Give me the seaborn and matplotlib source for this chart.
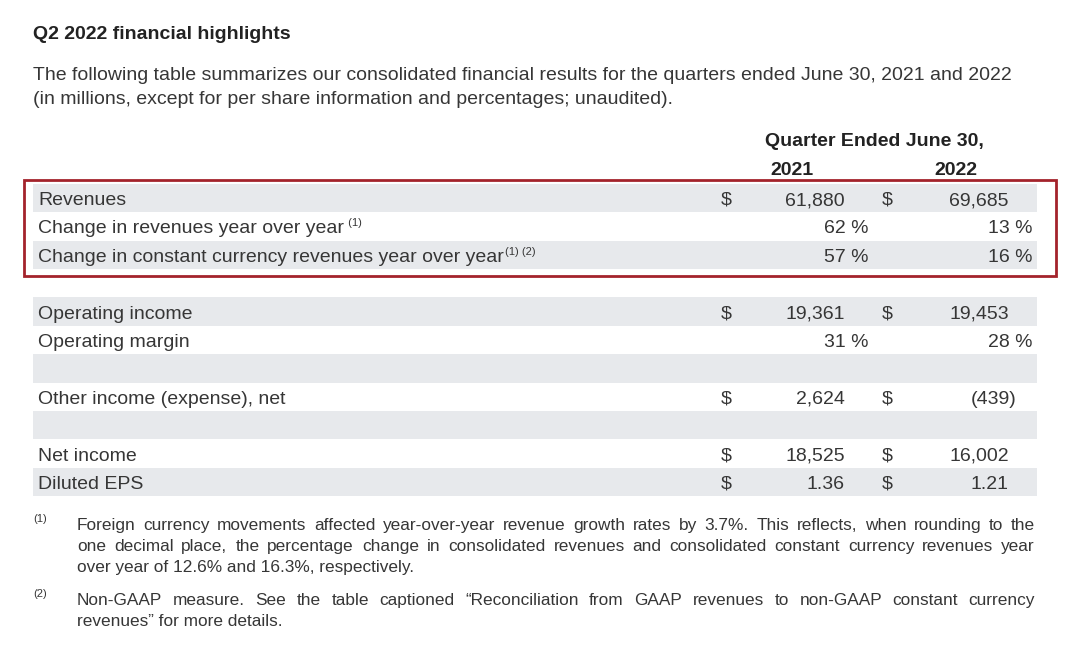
import matplotlib
matplotlib.use("Agg")
import matplotlib.pyplot as plt
from matplotlib.patches import Rectangle
import seaborn as sns

# table content
title = "Q2 2022 financial highlights"
intro = ["The following table summarizes our consolidated financial results for the quarters ended June 30, 2021 and 2022",
         "(in millions, except for per share information and percentages; unaudited)."]
header = "Quarter Ended June 30,"
years = ["2021", "2022"]
labels = ["Revenues", "Change in revenues year over year", "Change in constant currency revenues year over year",
          "", "Operating income", "Operating margin", "", "Other income (expense), net", "", "Net income", "Diluted EPS"]
notes = ["", " (1)", "(1) (2)", "", "", "", "", "", "", "", ""]
kinds = ["usd", "pct", "pct", "", "usd", "pct", "", "usd", "", "usd", "eps"]
v2021 = [61880, 62, 57, None, 19361, 31, None, 2624, None, 18525, 1.36]
v2022 = [69685, 13, 16, None, 19453, 28, None, -439, None, 16002, 1.21]
footnotes = [
    ("(1)", ["Foreign currency movements affected year-over-year revenue growth rates by 3.7%. This reflects, when rounding to the",
             "one decimal place, the percentage change in consolidated revenues and consolidated constant currency revenues year",
             "over year of 12.6% and 16.3%, respectively."]),
    ("(2)", ["Non-GAAP measure. See the table captioned \u201cReconciliation from GAAP revenues to non-GAAP constant currency",
             "revenues\u201d for more details."]),
]

sns.set_theme(style="white")
plt.rcParams['font.family'] = ['Liberation Sans', 'DejaVu Sans']

fig = plt.figure(figsize=(10.8, 6.67), dpi=100)
ax = fig.add_axes([0, 0, 1, 1])
ax.set_xlim(0, 1080)
ax.set_ylim(667, 0)
ax.axis('off')
renderer = fig.canvas.get_renderer()

dark = '#222222'
body = '#363636'
band = '#e7e9ec'
fs = 14


def width_of(t):
    return t.get_window_extent(renderer=renderer).width


ax.text(33, 39, title, fontsize=fs, fontweight='bold', color=dark, va='baseline')
for i, line in enumerate(intro):
    ax.text(33, 80 + i * 24, line, fontsize=fs, color=body, va='baseline')

ax.text(874, 146, header, fontsize=fs, fontweight='bold', color=dark, va='baseline', ha='center')
ax.text(792, 175, years[0], fontsize=fs, fontweight='bold', color=dark, va='baseline', ha='center')
ax.text(956, 175, years[1], fontsize=fs, fontweight='bold', color=dark, va='baseline', ha='center')

row0, pitch = 198, 28.4
for i, lab in enumerate(labels):
    y = row0 + i * pitch
    if i % 2 == 0:
        ax.add_patch(Rectangle((33, y - pitch / 2), 1004, pitch, color=band, lw=0, zorder=0))
    ty = y + 7
    t = ax.text(38, ty, lab, fontsize=fs, color=body, va='baseline')
    if notes[i]:
        x_end = 38 + width_of(t) + 1
        ax.text(x_end, ty - 7, notes[i], fontsize=8, color=body, va='baseline')
    kind = kinds[i]
    if not kind:
        continue
    for val, dollar_x, num_x in ((v2021[i], 726, 845), (v2022[i], 887, 1009)):
        if kind == 'pct':
            ax.text(num_x + 24, ty, f"{val} %", fontsize=fs, color=body, va='baseline', ha='right')
        else:
            ax.text(dollar_x, ty, "$", fontsize=fs, color=body, va='baseline', ha='center')
            if kind == 'eps':
                s = f"{val:.2f}"
            elif val < 0:
                s = f"({abs(val):,})"
            else:
                s = f"{val:,}"
            shift = 8 if s.startswith('(') else 0
            ax.text(num_x + shift, ty, s, fontsize=fs, color=body, va='baseline', ha='right')

# red highlight box around revenue rows
ax.add_patch(Rectangle((24, 180), 1032, 96, fill=False, ec='#a3232b', lw=2, zorder=3))

foot_size = 12.4


def justified(x0, x1, y, line, stretch):
    words = line.split()
    if not stretch:
        ax.text(x0, y, line, fontsize=foot_size, color=body, va='baseline')
        return
    ts = [ax.text(0, y, w, fontsize=foot_size, color=body, va='baseline') for w in words]
    ws = [width_of(t) for t in ts]
    gap = (x1 - x0 - sum(ws)) / (len(words) - 1)
    x = x0
    for t, w in zip(ts, ws):
        t.set_x(x)
        x += w + gap


fy = [530, 605]
for (mark, lines), y0 in zip(footnotes, fy):
    ax.text(33, y0 - 8, mark, fontsize=8, color=body, va='baseline')
    for j, line in enumerate(lines):
        justified(77, 1035, y0 + j * 21, line, j < len(lines) - 1)

fig.savefig("out.png", dpi=100, facecolor='white')
